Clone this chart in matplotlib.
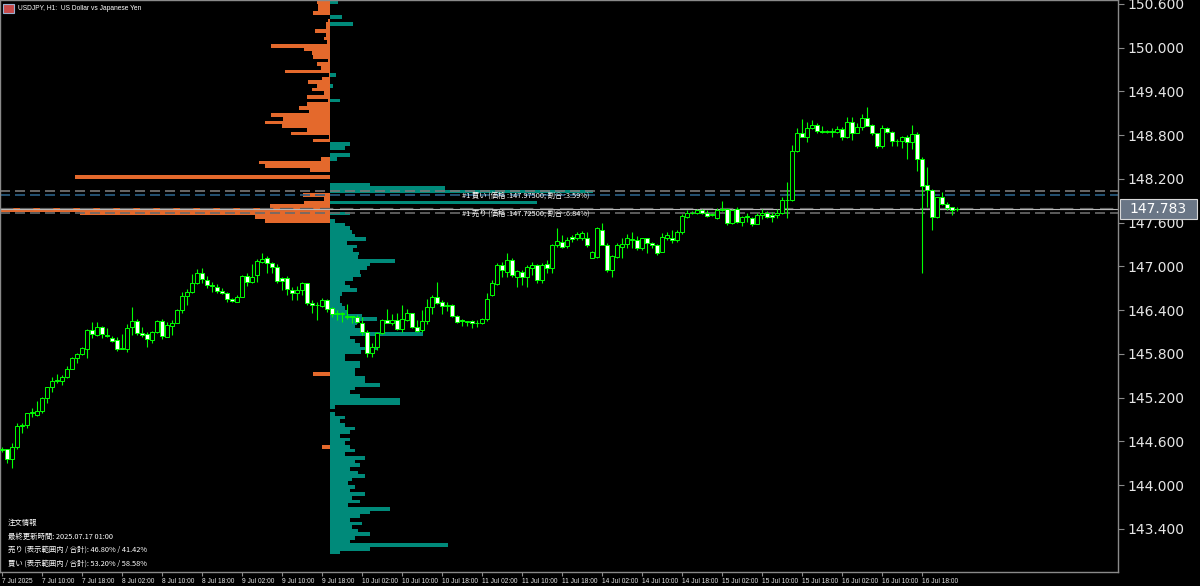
import numpy as np
import matplotlib
matplotlib.use("Agg")
import matplotlib.pyplot as plt
from matplotlib.patches import Rectangle

# ---------------- data ----------------
opens = [
144.50,144.50,144.36,144.52,144.81,144.82,144.99,144.96,145.02,145.20,
145.35,145.43,145.43,145.48,145.59,145.74,145.80,145.87,146.13,146.06,
146.17,146.06,146.02,145.99,145.87,145.87,146.17,146.25,146.09,146.07,
145.99,146.10,146.25,146.03,146.18,146.22,146.40,146.59,146.65,146.77,
146.91,146.81,146.75,146.72,146.66,146.64,146.55,146.51,146.58,146.87,
146.79,146.88,147.06,147.12,147.05,146.99,146.84,146.84,146.68,146.64,
146.68,146.77,146.50,146.47,146.46,146.54,146.43,146.36,146.35,146.31,
146.32,146.31,146.22,146.10,145.81,145.90,146.09,146.27,146.22,146.27,
146.14,146.27,146.36,146.17,146.13,146.25,146.44,146.58,146.51,146.46,
146.47,146.32,146.27,146.24,146.25,146.22,146.22,146.28,146.61,146.76,
147.02,146.92,147.09,146.86,146.92,146.86,146.98,147.02,146.81,147.03,
146.98,147.29,147.34,147.28,147.40,147.39,147.39,147.39,147.12,147.13,
147.50,147.29,146.95,147.13,147.27,147.31,147.36,147.36,147.25,147.39,
147.32,147.29,147.20,147.39,147.39,147.36,147.47,147.68,147.73,147.73,
147.77,147.73,147.71,147.66,147.77,147.79,147.59,147.79,147.61,147.68,
147.66,147.58,147.71,147.73,147.71,147.71,147.73,147.91,147.91,148.58,
148.83,148.78,148.90,148.94,148.86,148.84,148.86,148.84,148.88,148.78,
148.98,148.83,148.91,149.04,148.94,148.83,148.65,148.90,148.84,148.72,
148.72,148.78,148.71,148.82,148.47,148.12,148.05,147.68,147.95,147.86,
147.81,147.79]
highs = [
144.52,144.50,144.58,144.85,144.85,144.99,145.06,145.15,145.21,145.35,
145.48,145.52,145.51,145.63,145.76,145.81,145.90,146.14,146.24,146.24,
146.18,146.16,146.05,146.03,146.07,146.21,146.44,146.28,146.17,146.10,
146.11,146.27,146.28,146.24,146.27,146.42,146.65,146.69,146.90,146.97,
146.98,146.87,146.79,146.76,146.70,146.65,146.57,146.61,146.88,146.91,
147.03,147.10,147.18,147.14,147.06,147.03,146.86,146.87,146.72,146.73,
146.79,146.77,146.54,146.51,146.57,146.55,146.44,146.40,146.38,146.48,
146.32,146.33,146.31,146.13,145.95,146.10,146.28,146.42,146.35,146.36,
146.47,146.42,146.36,146.27,146.40,146.55,146.61,146.79,146.54,146.51,
146.48,146.33,146.28,146.25,146.27,146.27,146.29,146.64,146.81,147.05,
147.06,147.18,147.12,146.95,146.95,147.02,147.06,147.03,147.05,147.09,
147.31,147.53,147.43,147.40,147.43,147.47,147.49,147.47,147.21,147.54,
147.60,147.32,147.16,147.32,147.39,147.44,147.47,147.42,147.39,147.39,
147.34,147.31,147.46,147.47,147.50,147.50,147.72,147.77,147.76,147.79,
147.79,147.77,147.73,147.80,147.90,147.80,147.79,147.81,147.69,147.73,
147.68,147.73,147.79,147.76,147.75,147.79,147.95,148.16,148.67,148.90,
149.02,148.98,149.01,148.97,148.93,148.87,148.90,148.93,148.91,149.05,
149.05,148.97,149.09,149.19,148.95,148.83,148.94,148.91,148.86,148.75,
148.79,148.80,148.94,148.84,148.50,148.36,148.06,147.95,148.02,147.88,
147.81,147.81]
lows = [
144.45,144.30,144.24,144.50,144.72,144.78,144.94,144.95,144.99,145.13,
145.28,145.40,145.37,145.47,145.59,145.68,145.79,145.74,146.02,146.05,
146.02,146.03,145.96,145.84,145.87,145.83,146.06,146.06,146.03,145.90,
145.95,146.09,146.00,146.03,146.06,146.22,146.36,146.47,146.64,146.76,
146.77,146.70,146.65,146.64,146.62,146.51,146.51,146.51,146.58,146.73,
146.77,146.79,147.05,146.91,146.91,146.77,146.68,146.61,146.54,146.54,
146.61,146.47,146.36,146.27,146.44,146.38,146.31,146.27,146.24,146.28,
146.22,146.22,146.06,145.76,145.76,145.85,146.07,146.22,146.20,146.13,
146.10,146.25,146.16,146.10,146.10,146.21,146.35,146.48,146.35,146.39,
146.31,146.22,146.18,146.18,146.16,146.17,146.21,146.25,146.59,146.75,
146.86,146.86,146.86,146.72,146.75,146.72,146.88,146.77,146.77,146.91,
146.91,147.27,147.25,147.25,147.34,147.36,147.36,147.27,147.12,147.12,
147.29,146.92,146.86,147.12,147.12,147.25,147.25,147.23,147.23,147.18,
147.25,147.16,147.20,147.36,147.32,147.34,147.44,147.66,147.72,147.72,
147.72,147.68,147.69,147.65,147.76,147.57,147.58,147.59,147.55,147.61,
147.55,147.58,147.65,147.66,147.61,147.66,147.72,147.66,147.90,148.57,
148.78,148.71,148.89,148.83,148.83,148.83,148.78,148.83,148.73,148.76,
148.73,148.83,148.87,148.93,148.80,148.62,148.62,148.83,148.65,148.65,
148.62,148.47,148.61,148.31,146.91,147.82,147.50,147.66,147.84,147.77,
147.71,147.76]
closes = [
144.48,144.36,144.52,144.81,144.82,144.99,144.99,145.02,145.20,145.35,
145.43,145.44,145.48,145.59,145.74,145.80,145.88,146.13,146.07,146.17,
146.07,146.05,145.98,145.87,145.88,146.16,146.25,146.09,146.06,146.00,
146.10,146.25,146.05,146.20,146.22,146.40,146.59,146.65,146.77,146.91,
146.83,146.75,146.73,146.66,146.64,146.55,146.53,146.58,146.87,146.79,
146.86,147.07,147.10,147.05,146.99,146.80,146.80,146.69,146.64,146.68,
146.77,146.50,146.47,146.47,146.54,146.42,146.35,146.35,146.35,146.32,
146.31,146.24,146.10,145.81,145.90,146.09,146.27,146.22,146.27,146.14,
146.28,146.36,146.17,146.11,146.25,146.44,146.58,146.50,146.46,146.47,
146.32,146.24,146.25,146.25,146.22,146.22,146.28,146.55,146.77,147.02,
146.95,147.09,146.88,146.94,146.86,146.99,147.02,146.81,147.02,146.98,
147.29,147.35,147.27,147.36,147.38,147.44,147.46,147.29,147.20,147.53,
147.29,146.95,147.14,147.29,147.31,147.39,147.38,147.25,147.39,147.32,
147.29,147.18,147.40,147.43,147.36,147.47,147.69,147.73,147.73,147.77,
147.73,147.69,147.71,147.77,147.79,147.59,147.77,147.61,147.68,147.68,
147.58,147.71,147.73,147.68,147.68,147.73,147.91,147.91,148.58,148.83,
148.78,148.90,148.94,148.86,148.84,148.86,148.84,148.88,148.78,148.98,
148.83,148.91,149.04,148.93,148.83,148.65,148.90,148.84,148.72,148.72,
148.78,148.71,148.82,148.47,148.10,148.05,147.68,147.95,147.86,147.80,
147.77,147.783]

x_tick_labels = ["7 Jul 2025", "7 Jul 10:00", "7 Jul 18:00", "8 Jul 02:00", "8 Jul 10:00",
                 "8 Jul 18:00", "9 Jul 02:00", "9 Jul 10:00", "9 Jul 18:00", "10 Jul 02:00",
                 "10 Jul 10:00", "10 Jul 18:00", "11 Jul 02:00", "11 Jul 10:00", "11 Jul 18:00",
                 "14 Jul 02:00", "14 Jul 10:00", "14 Jul 18:00", "15 Jul 02:00", "15 Jul 10:00",
                 "15 Jul 18:00", "16 Jul 02:00", "16 Jul 10:00", "16 Jul 18:00"]
y_ticks = [143.4, 144.0, 144.6, 145.2, 145.8, 146.4, 147.0, 147.6, 148.2, 148.8, 149.4, 150.0, 150.6]
current_price = 147.783

# order book buckets (0.05 wide), from top bucket 150.60-150.65 downwards; values in %
bucket_top = 150.65
bucket_width = 0.05
sell_pct = [
0.26,0.24,0.24,0.34,0.00,0.04,0.08,0.08,0.30,0.08,
0.12,0.06,1.18,0.52,0.36,0.34,0.04,0.26,0.18,0.90,
0.02,0.16,0.44,0.26,0.36,0.12,0.46,0.04,0.46,0.62,
0.42,1.18,0.94,1.30,0.96,0.46,0.78,0.02,0.34,0.00,
0.00,0.00,0.00,0.18,1.42,1.30,0.40,0.00,5.10,0.00,
0.00,0.00,0.00,0.54,0.12,0.52,1.20,6.80,5.00,1.50,
1.30,0,0,0,0,0,0,0,0,0,
0,0,0,0,0,0,0,0,0,0,
0,0,0,0,0,0,0,0,0,0,
0,0,0,0,0,0,0,0,0,0,
0,0,0.34,0,0,0,0,0,0,0,
0,0,0,0,0,0,0,0,0,0,
0,0,0.16,0,0,0,0,0,0,0,
0,0,0,0,0,0,0,0,0,0,
0,0,0,0,0,0,0,0,0,0,
0,0,0,0,0,0,0]
buy_pct = [
0.16,0,0,0,0.24,0,0.46,0,0,0,
0,0,0,0,0,0,0,0,0,0,
0.12,0,0,0.06,0,0,0,0.20,0,0,
0,0,0,0,0,0,0,0,0,0.40,
0.30,0,0.40,0.14,0,0,0,0,0,0,
0.80,2.30,5.26,0,0,4.14,0,0,0.40,0,
0.10,0.30,0.40,0.44,0.50,0.72,0.34,0.54,0.46,0.58,
0.56,1.30,0.80,0.74,0.60,0.62,0.46,0.30,0.40,0.54,
0.24,0.20,0.20,0.24,0.30,0.34,0.64,0.94,0.54,0.50,
0.60,1.86,0.40,0.50,0.60,0.96,0.62,0.30,0.30,0.60,
0.60,0.50,0.50,0.70,0.70,1.00,0.50,0.40,0.60,1.40,
1.40,0.10,0,0.10,0.30,0.20,0.30,0.50,0.40,0.20,
0.40,0.30,0.40,0.50,0.30,0.70,0.50,0.60,0.40,0.56,
0.70,0.44,0.36,0.50,0.40,0.70,0.44,0.60,0.36,1.20,
0.80,0.60,0.40,0.64,0.44,0.56,0.80,0.50,0.40,2.36,
0.80,0.20,0,0,0,0,0]

info_lines = ["注文情報",
              "最終更新時間: 2025.07.17 01:00",
              "売り (表示範囲内 / 合計): 46.80% / 41.42%",
              "買い (表示範囲内 / 合計): 53.20% / 58.58%"]
buy_label = "#1 買い (価格 :147.97500; 割合 :3.59%)"
sell_label = "#1 売り (価格 :147.72500; 割合 :6.84%)"
title = "USDJPY, H1:  US Dollar vs Japanese Yen"

# ---------------- style ----------------
W, H = 1200, 586
GREEN = "#00ff00"
ORANGE = "#e4692c"
TEAL = "#008a7a"
GRID = "#8a8a8a"
JP = ["Noto Sans CJK JP", "DejaVu Sans"]
SMALL = ["Liberation Sans Narrow", "Liberation Sans", "DejaVu Sans"]

fig = plt.figure(figsize=(W / 100, H / 100), dpi=100, facecolor="black")
ax = fig.add_axes([0, 14 / H, 1118 / W, 572 / H])
ax.set_facecolor("black")
ax.set_ylim(142.808, 150.654)
ax.set_xlim(-0.4, 223.2)

o = np.array(opens); h = np.array(highs); l = np.array(lows); c = np.array(closes)
n = len(o)
xs = np.arange(n)

# order book histogram (centre at candle slot 65.6, 10 slots per percent)
hist_center = 65.6
slots_per_pct = 10.0
sell = np.array(sell_pct); buy = np.array(buy_pct)
b_lo = bucket_top - bucket_width * (np.arange(len(sell)) + 1)
ax.barh(b_lo, -sell * slots_per_pct, left=hist_center, height=bucket_width,
        align="edge", color=ORANGE, linewidth=0, zorder=1)
ax.barh(b_lo, buy * slots_per_pct, left=hist_center, height=bucket_width,
        align="edge", color=TEAL, linewidth=0, zorder=1)

# price lines
ax.axhline(148.038, color="#7a7a7a", lw=1.2, ls=(0, (6, 3)), zorder=2)
ax.axhline(147.983, color="#2b5f86", lw=1.2, ls=(0, (6, 3)), zorder=2)
ax.axhline(current_price, color="#5a5a5a", lw=1.6, ls=(0, (6, 3)), zorder=2)
ax.axhline(147.736, color="#6a6a6a", lw=1.2, ls=(0, (6, 3)), zorder=2)
ax.axhline(current_price, color="#b8b8b8", lw=0.8, zorder=2)

# candles
up = c >= o
ax.vlines(xs, l, h, color=GREEN, lw=0.8, zorder=3)
body_lo = np.minimum(o, c)
body_h = np.maximum(np.abs(c - o), 0.006)
ax.bar(xs, body_h, bottom=body_lo, width=0.62,
       color=np.where(up, "black", "white"), edgecolor=GREEN, linewidth=0.7, zorder=4)

# labels for top buckets
ax.text(92.0, 147.975, buy_label, color="white", fontsize=5.3, family=JP,
        va="center", ha="left", zorder=5)
ax.text(92.0, 147.725, sell_label, color="white", fontsize=5.3, family=JP,
        va="center", ha="left", zorder=5)

# axes styling
for s in ax.spines.values():
    s.set_color(GRID)
    s.set_linewidth(1)
ax.yaxis.tick_right()
ax.set_yticks(y_ticks)
ax.set_yticklabels([f"{v:.3f}" for v in y_ticks])
ax.tick_params(axis="y", colors=GRID, labelcolor="#e6e6e6", labelsize=10,
               direction="out", length=4, pad=3)
ax.set_xticks(np.arange(0, 8 * len(x_tick_labels), 8))
ax.set_xticklabels(x_tick_labels)
ax.tick_params(axis="x", colors=GRID, labelcolor="#e6e6e6", labelsize=4.8,
               direction="out", length=3, pad=1.5)
for t in ax.get_xticklabels():
    t.set_horizontalalignment("left")
    t.set_family(SMALL)

# current price box
ydisp = ax.transData.transform((0, current_price))[1]
fig.patches.append(Rectangle((1120 / W, (ydisp - 10) / H), 77 / W, 20 / H,
                             transform=fig.transFigure, facecolor="#6a7686",
                             edgecolor="#d8d8d8", lw=0.8, zorder=10))
fig.text(1158 / W, ydisp / H, f"{current_price:.3f}", color="white", fontsize=10,
         ha="center", va="center", zorder=11)

# title and icon
fig.patches.append(Rectangle((3 / W, 1 - 13 / H), 11 / W, 9 / H, transform=fig.transFigure,
                             facecolor="#c84a4a", edgecolor="#9ab0d0", lw=0.8, zorder=10))
fig.text(18 / W, 1 - 8 / H, title, color="white", fontsize=4.8, family=SMALL,
         ha="left", va="center", zorder=11)

# info block
for k, line in enumerate(info_lines):
    fig.text(8 / W, 1 - (523 + 13.5 * k) / H, line, color="white", fontsize=5.3,
             family=JP, ha="left", va="center", zorder=11)

fig.savefig("out.png", dpi=100, facecolor="black")
